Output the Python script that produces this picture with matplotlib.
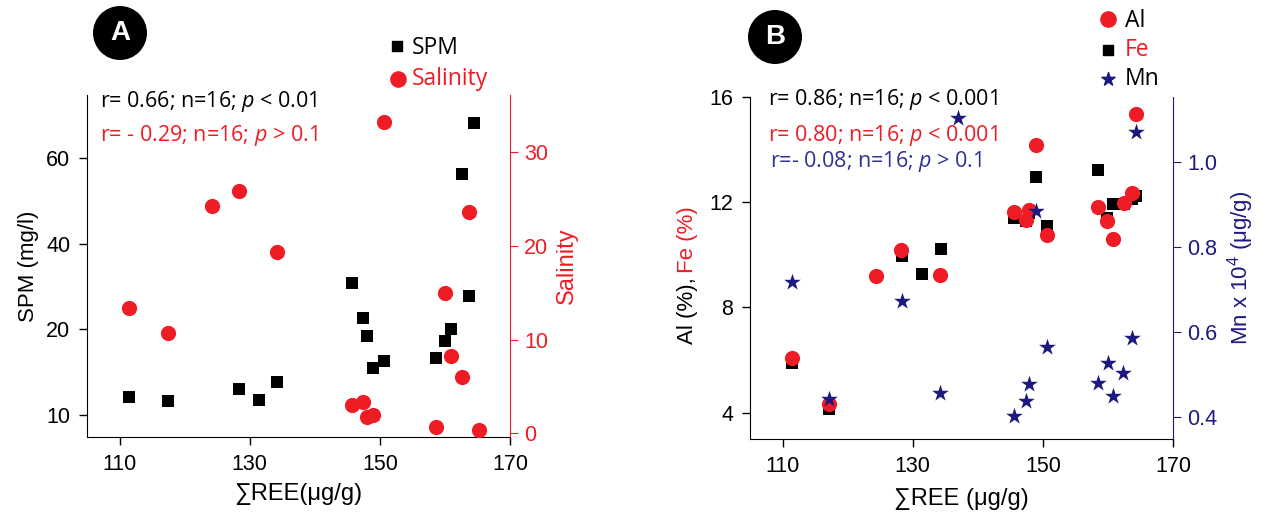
import matplotlib
matplotlib.use("Agg")
import matplotlib.pyplot as plt
from matplotlib.patches import Ellipse

plt.rcParams['font.family'] = ['Liberation Sans', 'DejaVu Sans']
plt.rcParams['mathtext.fontset'] = 'custom'
plt.rcParams['mathtext.rm'] = 'Open Sans'
plt.rcParams['mathtext.it'] = 'Open Sans:italic'

RED = '#ee1c24'
NAVY = '#1c1a7e'
BLUE_TXT = '#2e3192'

# ---- panel A data ----
ree_spm = [111.4, 117.4, 128.3, 131.4, 134.2, 145.7, 147.4, 148.0,
           148.9, 150.6, 158.6, 160.0, 160.9, 162.6, 163.7, 164.5]
spm = [4.2, 3.3, 6.1, 3.5, 7.7, 30.8, 22.6, 18.4,
       11.0, 12.6, 13.3, 17.3, 20.1, 56.3, 27.8, 68.2]
ree_sal = [111.4, 117.5, 124.2, 128.3, 134.2, 145.7, 147.4, 148.0,
           148.9, 150.6, 158.6, 160.0, 160.9, 162.6, 163.7, 165.2]
salinity = [13.4, 10.7, 24.3, 25.9, 19.3, 3.0, 3.3, 1.7,
            2.0, 33.2, 0.7, 15.0, 8.2, 6.0, 23.6, 0.4]

# ---- panel B data ----
ree_b = [111.4, 117.2, 124.3, 128.2, 134.2, 145.5, 147.4, 147.8,
         148.9, 150.6, 158.5, 159.8, 160.8, 162.5, 163.7, 164.3]
al = [6.06, 4.34, 9.18, 10.17, 9.22, 11.62, 11.31, 11.70,
      14.17, 10.74, 11.81, 11.28, 10.59, 11.96, 12.34, 15.35]
ree_fe = [111.4, 117.2, 128.3, 131.5, 134.3, 145.5, 147.4, 147.8,
          148.9, 150.6, 158.5, 159.8, 160.8, 162.5, 163.7, 164.3]
fe = [5.90, 4.15, 9.94, 9.26, 10.21, 11.39, 11.28, 11.58,
      12.95, 11.09, 13.22, 11.39, 11.92, 11.92, 12.11, 12.23]
ree_mn = [111.4, 117.2, 128.3, 134.2, 136.9, 145.5, 147.4, 147.8,
          148.9, 150.6, 158.5, 160.0, 160.8, 162.3, 163.7, 164.3]
mn = [0.718, 0.442, 0.673, 0.456, 1.104, 0.402, 0.438, 0.478,
      0.885, 0.565, 0.480, 0.527, 0.449, 0.504, 0.586, 1.071]

x_ticks = [110, 130, 150, 170]

fig = plt.figure(figsize=(12.67, 5.27), dpi=100)
W, H = 1267, 527


def box(l, t, r, b):
    return [l / W, 1 - b / H, (r - l) / W, (b - t) / H]


def style(ax):
    ax.spines['top'].set_visible(False)
    ax.spines['right'].set_visible(False)
    ax.tick_params(direction='out', length=6, width=1, labelsize=15.5, pad=6)
    ax.set_xlim(105, 170)
    ax.set_xticks(x_ticks)


def badge(x, y, letter):
    fig.patches.append(Ellipse((x / W, 1 - y / H), 54 / W, 54 / H, transform=fig.transFigure,
                               facecolor='black', edgecolor='none'))
    fig.text(x / W, 1 - y / H, letter, color='white', fontsize=20, fontweight='bold',
             ha='center', va='center')


# ================= Panel A =================
axA = fig.add_axes(box(87, 95, 510, 437))
style(axA)
axA.scatter(ree_spm, spm, marker='s', s=80, color='black', zorder=3, linewidths=0)
axA.set_ylim(-5.1, 74.7)
axA.set_yticks([0, 20, 40, 60])
axA.set_yticklabels(['10', '20', '40', '60'])
axA.set_ylabel('SPM (mg/l)', fontsize=16, labelpad=5)
axA.set_xlabel('∑REE(μg/g)', fontsize=17, labelpad=6)

axA2 = axA.twinx()
axA2.scatter(ree_sal, salinity, marker='o', s=120, color=RED, zorder=3, linewidths=0)
axA2.set_ylim(-0.4, 36.1)
axA2.set_yticks([0, 10, 20, 30])
for s in ['top', 'left', 'bottom']:
    axA2.spines[s].set_visible(False)
axA2.spines['right'].set_color(RED)
axA2.tick_params(axis='y', colors=RED, direction='out', length=6, labelsize=15.5, pad=4)
axA2.set_ylabel('Salinity', color=RED, fontsize=17, labelpad=6)

fig.text(100 / W, 1 - 101 / H, r'r= 0.66; n=16; $\mathit{p}$ < 0.01', fontsize=15.5,
         family='Open Sans', va='center')
fig.text(100 / W, 1 - 136 / H, r'r= - 0.29; n=16; $\mathit{p}$ > 0.1', fontsize=15.5,
         family='Open Sans', va='center', color=RED)

# legend A
axA.scatter([397 / W], [1 - 46 / H], marker='s', s=60, color='black',
            transform=fig.transFigure, clip_on=False)
axA.scatter([398 / W], [1 - 79 / H], marker='o', s=120, color=RED,
            transform=fig.transFigure, clip_on=False)
fig.text(412 / W, 1 - 48 / H, 'SPM', fontsize=16.5, family='Open Sans', va='center')
fig.text(412 / W, 1 - 79 / H, 'Salinity', fontsize=16.5, family='Open Sans', va='center',
         color=RED)

badge(120, 33, 'A')

# ================= Panel B =================
axB = fig.add_axes(box(750, 97, 1173, 439))
style(axB)
axB.scatter(ree_fe, fe, marker='s', s=80, color='black', zorder=3, linewidths=0)
axB.scatter(ree_b, al, marker='o', s=120, color=RED, zorder=4, linewidths=0)
axB.set_ylim(3.0, 16)
axB.set_yticks([4, 8, 12, 16])
axB.set_xlabel('∑REE (μg/g)', fontsize=17, labelpad=8)

axB2 = axB.twinx()
axB2.scatter(ree_mn, mn, marker='*', s=160, color=NAVY, zorder=5, linewidths=0)
axB2.set_ylim(0.348, 1.153)
axB2.set_yticks([0.4, 0.6, 0.8, 1.0])
axB2.set_yticklabels(['0.4', '0.6', '0.8', '1.0'])
for s in ['top', 'left', 'bottom']:
    axB2.spines[s].set_visible(False)
axB2.spines['right'].set_color(NAVY)
axB2.tick_params(axis='y', colors=NAVY, direction='out', length=6, labelsize=15.5, pad=4)
axB2.set_ylabel(r'Mn x 10$^{4}$ (μg/g)', color=NAVY, fontsize=16, labelpad=6)

# two-coloured left label
fig.text(687 / W, 1 - 311 / H, 'Al (%),', rotation=90, fontsize=16,
         ha='center', va='center')
fig.text(687 / W, 1 - 240 / H, 'Fe (%)', rotation=90, fontsize=16, color=RED,
         ha='center', va='center')

fig.text(768 / W, 1 - 100 / H, r'r= 0.86; n=16; $\mathit{p}$ < 0.001', fontsize=15.5,
         family='Open Sans', va='center')
fig.text(768 / W, 1 - 136 / H, r'r= 0.80; n=16; $\mathit{p}$ < 0.001', fontsize=15.5,
         family='Open Sans', va='center', color=RED)
fig.text(770 / W, 1 - 162 / H, r'r=- 0.08; n=16; $\mathit{p}$ > 0.1', fontsize=15.5,
         family='Open Sans', va='center', color=BLUE_TXT)

# legend B
axB.scatter([1108 / W], [1 - 19 / H], marker='o', s=120, color=RED,
            transform=fig.transFigure, clip_on=False)
axB.scatter([1108 / W], [1 - 50 / H], marker='s', s=60, color='black',
            transform=fig.transFigure, clip_on=False)
axB.scatter([1108 / W], [1 - 79 / H], marker='*', s=100, color=NAVY,
            transform=fig.transFigure, clip_on=False)
fig.text(1125 / W, 1 - 21 / H, 'Al', fontsize=16.5, family='Open Sans', va='center')
fig.text(1125 / W, 1 - 50 / H, 'Fe', fontsize=16.5, family='Open Sans', va='center',
         color=RED)
fig.text(1125 / W, 1 - 79 / H, 'Mn', fontsize=16.5, family='Open Sans', va='center')

badge(775, 37, 'B')

fig.savefig('out.png', dpi=100)
